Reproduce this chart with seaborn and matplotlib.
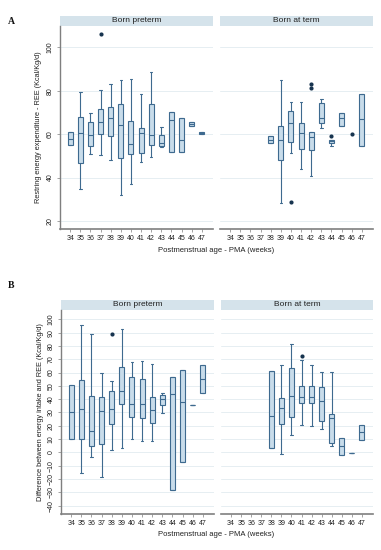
import numpy as np
import pandas as pd
import matplotlib
matplotlib.use("Agg")
import matplotlib.pyplot as plt
import seaborn as sns
from matplotlib.patches import Rectangle

# ---------------- data ----------------
WEEKS = [str(w) for w in range(34, 48)]

# Panel A: Resting energy expenditure - REE (Kcal/Kg/d)
# box summary per week: whisker low, q1, median, q3, whisker high
ree_pre_weeks = ["34", "35", "36", "37", "38", "39", "40", "41", "42", "43", "44", "45", "46", "47"]
ree_pre_low = [54.8, 34.7, 50.8, 50.3, 48.0, 31.8, 36.9, 47.1, 49.6, 53.9, 51.7, 51.7, 63.8, 60.2]
ree_pre_q1 = [54.8, 46.5, 54.5, 60.1, 59.2, 48.8, 50.8, 51.4, 54.9, 54.6, 51.7, 51.7, 63.8, 60.2]
ree_pre_med = [57.7, 60.5, 59.5, 65.5, 67.2, 64.0, 55.4, 60.6, 59.5, 56.0, 66.4, 57.2, 64.6, 60.6]
ree_pre_q3 = [60.8, 68.0, 65.8, 71.4, 72.6, 74.1, 66.1, 62.6, 73.8, 59.7, 70.0, 67.5, 65.5, 61.0]
ree_pre_high = [60.8, 79.6, 69.8, 80.1, 83.3, 84.8, 85.3, 78.3, 88.8, 63.4, 70.0, 67.5, 65.5, 61.0]
ree_pre_out_weeks = ["37"]
ree_pre_out_vals = [106.0]

ree_term_weeks = ["38", "39", "40", "41", "42", "43", "44", "45", "47"]
ree_term_low = [55.7, 28.1, 51.1, 43.8, 40.8, 62.9, 54.5, 63.7, 54.5]
ree_term_q1 = [55.7, 48.0, 56.2, 53.1, 52.9, 65.3, 55.9, 63.7, 54.5]
ree_term_med = [57.2, 57.2, 64.9, 60.3, 58.8, 67.6, 56.8, 67.2, 66.9]
ree_term_q3 = [59.1, 63.7, 70.6, 65.2, 61.1, 74.4, 57.4, 69.8, 78.5]
ree_term_high = [59.1, 84.8, 74.9, 74.9, 61.1, 76.0, 57.4, 69.8, 78.5]
ree_term_out_weeks = ["40", "42", "42", "44", "46"]
ree_term_out_vals = [28.9, 83.3, 81.1, 59.1, 60.1]

# Panel B: Difference between energy intake and REE (Kcal/Kg/d)
dif_pre_weeks = ["34", "35", "36", "37", "38", "39", "40", "41", "42", "43", "44", "45", "46", "47"]
dif_pre_low = [10.25, -15.75, -3.25, -18.75, 1.75, 3.5, 9.75, 8.5, 8.5, 29.75, -28.5, -7.0, 35.5, 44.75]
dif_pre_q1 = [10.25, 9.75, 5.0, 6.5, 21.0, 36.0, 26.25, 25.5, 22.25, 35.75, -28.5, -7.0, 35.5, 44.75]
dif_pre_med = [30.0, 32.25, 16.0, 31.0, 32.25, 46.0, 36.25, 36.0, 31.75, 40.0, 44.0, 37.5, 35.5, 55.5]
dif_pre_q3 = [50.75, 54.75, 42.5, 41.25, 46.25, 64.25, 56.75, 55.25, 41.5, 43.0, 57.0, 62.25, 35.5, 65.75]
dif_pre_high = [50.75, 95.75, 89.25, 59.75, 54.0, 92.5, 68.0, 68.75, 66.75, 44.75, 57.0, 62.25, 35.5, 65.75]
dif_pre_out_weeks = ["38"]
dif_pre_out_vals = [89.0]

dif_term_weeks = ["38", "39", "40", "41", "42", "43", "44", "45", "46", "47"]
dif_term_low = [3.0, -1.0, 13.0, 20.5, 19.5, 17.5, 5.0, -1.75, -0.25, 9.0]
dif_term_q1 = [3.0, 21.0, 26.25, 36.75, 37.0, 23.5, 6.75, -1.75, -0.25, 9.0]
dif_term_med = [27.5, 33.25, 42.0, 41.75, 41.25, 38.5, 25.5, 5.0, -0.25, 15.0]
dif_term_q3 = [61.25, 40.75, 63.5, 49.75, 50.25, 49.0, 28.5, 11.0, -0.25, 20.25]
dif_term_high = [61.25, 65.75, 81.5, 69.25, 66.0, 60.25, 60.75, 11.0, -0.25, 20.25]
dif_term_out_weeks = ["41"]
dif_term_out_vals = [72.75]

FACET_TITLES = ["Born preterm", "Born at term"]
YLABEL_A = "Restring energy expenditure - REE (Kcal/Kg/d)"
YLABEL_B = "Difference between energy intake and REE (Kcal/Kg/d)"
XLABEL = "Postmenstrual age - PMA (weeks)"
YTICKS_A = [20, 40, 60, 80, 100]
YTICKS_B = list(range(-40, 101, 10))


def box_frame(weeks, lo, q1, med, q3, hi):
    rows = []
    for w, a, b, c, d, e in zip(weeks, lo, q1, med, q3, hi):
        for v in (a, b, c, d, e):
            rows.append({"pma": w, "value": v})
    return pd.DataFrame(rows)


# ---------------- style ----------------
sns.set_theme(style="white")
plt.rcParams["font.family"] = ["Liberation Sans", "DejaVu Sans"]

FILL = "#c8dcea"
EDGE = "#3e6a8f"
DOT = "#17344f"
STRIP = "#d5e3eb"
GRID = "#e6eef2"
SPINE = "#7f7f7f"
TXT = "#222222"

W, H = 381, 550
fig = plt.figure(figsize=(W / 100, H / 100), dpi=100)
fig.patch.set_facecolor("white")


def add_ax(l, t, r, b):
    return fig.add_axes([l / W, 1 - b / H, (r - l) / W, (b - t) / H])


def draw_panel(ax, df, out_weeks, out_vals, ylim, yticks, first, title, strip_px, ax_h_px):
    for y in yticks:
        ax.axhline(y, color=GRID, lw=0.7, zorder=0)
    sns.boxplot(data=df, x="pma", y="value", order=WEEKS, whis=(0, 100),
                width=0.5, color=FILL, linecolor=EDGE, linewidth=0.8,
                saturation=1, showfliers=False, ax=ax,
                medianprops={"color": EDGE, "linewidth": 0.8})
    if out_weeks:
        odf = pd.DataFrame({"pma": out_weeks, "value": out_vals})
        sns.stripplot(data=odf, x="pma", y="value", order=WEEKS, jitter=False,
                      color=DOT, size=3, ax=ax, zorder=5)
    ax.set_xlim(-1, 14.1)
    ax.set_ylim(*ylim)
    ax.set_xlabel("")
    ax.set_ylabel("")
    ax.set_facecolor("white")
    for s in ("top", "right"):
        ax.spines[s].set_visible(False)
    ax.spines["bottom"].set_color(SPINE)
    ax.spines["bottom"].set_linewidth(1.2)
    ax.tick_params(axis="x", length=2, width=0.5, color=SPINE, pad=2,
                   labelsize=5, labelcolor=TXT, bottom=True)
    ax.set_yticks(yticks)
    if first:
        ax.spines["left"].set_color(SPINE)
        ax.spines["left"].set_linewidth(1.0)
        ax.tick_params(axis="y", length=2.5, width=0.5, color=SPINE, pad=2,
                       labelsize=5, labelcolor=TXT, left=True)
        for lab in ax.get_yticklabels():
            lab.set_rotation(90)
            lab.set_va("center")
    else:
        ax.spines["left"].set_visible(False)
        ax.tick_params(axis="y", left=False, labelleft=False)
    h = strip_px / ax_h_px
    ax.add_patch(Rectangle((0, 1.0), 1, h, transform=ax.transAxes,
                           facecolor=STRIP, edgecolor="none", clip_on=False))
    ax.text(0.5, 1.0 + h / 2, title, transform=ax.transAxes, ha="center",
            va="center", fontsize=6, color=TXT)


# Panel A
axA1 = add_ax(60, 26, 213, 229)
axA2 = add_ax(220, 26, 373, 229)
draw_panel(axA1, box_frame(ree_pre_weeks, ree_pre_low, ree_pre_q1, ree_pre_med, ree_pre_q3, ree_pre_high),
           ree_pre_out_weeks, ree_pre_out_vals, (16.3, 109.8), YTICKS_A, True, FACET_TITLES[0], 10.5, 203)
draw_panel(axA2, box_frame(ree_term_weeks, ree_term_low, ree_term_q1, ree_term_med, ree_term_q3, ree_term_high),
           ree_term_out_weeks, ree_term_out_vals, (16.3, 109.8), YTICKS_A, False, FACET_TITLES[1], 10.5, 203)

# Panel B
axB1 = add_ax(61, 310, 214, 514)
axB2 = add_ax(221, 310, 373, 514)
draw_panel(axB1, box_frame(dif_pre_weeks, dif_pre_low, dif_pre_q1, dif_pre_med, dif_pre_q3, dif_pre_high),
           dif_pre_out_weeks, dif_pre_out_vals, (-46.3, 107.0), YTICKS_B, True, FACET_TITLES[0], 10.5, 204)
draw_panel(axB2, box_frame(dif_term_weeks, dif_term_low, dif_term_q1, dif_term_med, dif_term_q3, dif_term_high),
           dif_term_out_weeks, dif_term_out_vals, (-46.3, 107.0), YTICKS_B, False, FACET_TITLES[1], 10.5, 204)

# labels
fig.text(216 / W, 1 - 250 / H, XLABEL, ha="center", va="center", fontsize=5.5, color=TXT)
fig.text(216 / W, 1 - 535 / H, XLABEL, ha="center", va="center", fontsize=5.5, color=TXT)
fig.text(39 / W, 1 - 127.5 / H, YLABEL_A, ha="center", va="center", rotation=90, fontsize=5.3, color=TXT)
fig.text(41 / W, 1 - 412 / H, YLABEL_B, ha="center", va="center", rotation=90, fontsize=5.3, color=TXT)
fig.text(11 / W, 1 - 21 / H, "A", ha="center", va="center", fontsize=7,
         fontweight="bold", family=["Liberation Serif", "DejaVu Serif"], color="#111111")
fig.text(11 / W, 1 - 285 / H, "B", ha="center", va="center", fontsize=7,
         fontweight="bold", family=["Liberation Serif", "DejaVu Serif"], color="#111111")

fig.savefig("out.png", dpi=100, facecolor="white")
